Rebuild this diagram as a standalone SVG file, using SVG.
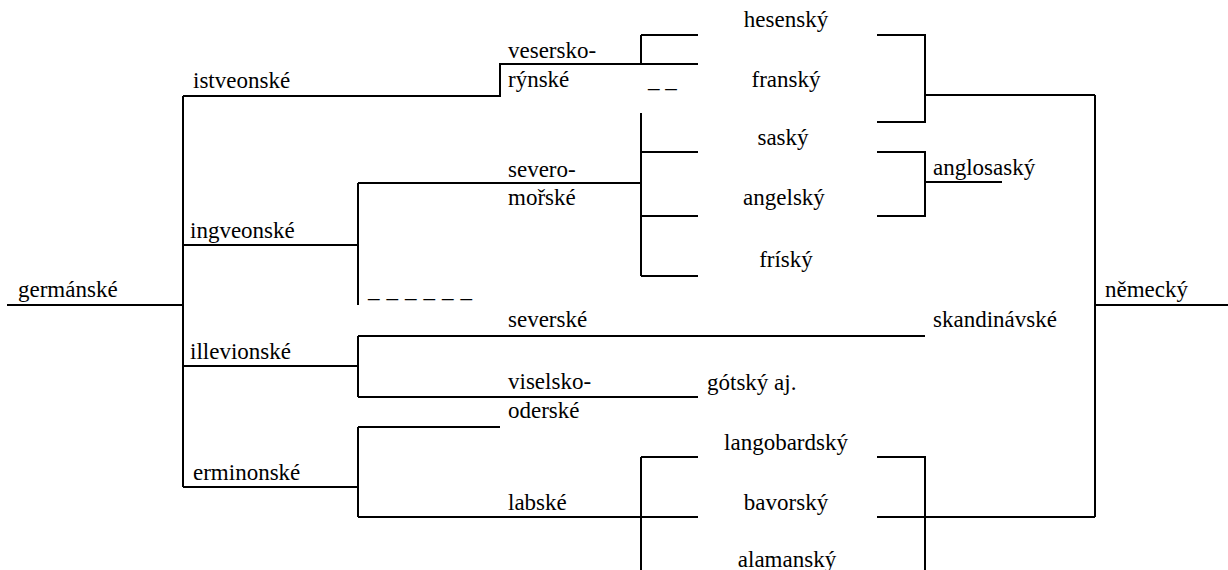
<svg xmlns="http://www.w3.org/2000/svg" width="1228" height="570" viewBox="0 0 1228 570">
  <style>
    text { font-family: "Liberation Serif", Tinos, "Times New Roman", "DejaVu Serif", serif; font-size: 23px; fill: #000; }
    .mid { text-anchor: middle; }
    .ln { stroke: #000; stroke-width: 2; fill: none; stroke-linecap: butt; stroke-linejoin: miter; }
  </style>
  <rect width="1228" height="570" fill="#fff"/>

  <!-- branch lines of the family tree -->
  <g id="connectors" class="ln">
    <!-- root -->
    <path d="M7 305H183"/>
    <path d="M183 96V487"/>
    <!-- istveonské to vesersko-rýnské -->
    <path d="M183 96H500V64H698"/>
    <path d="M641 35V64"/>
    <path d="M641 35H698"/>
    <!-- ingveonské to severomořské -->
    <path d="M183 245H358"/>
    <path d="M358 183V305"/>
    <path d="M358 183H641"/>
    <path d="M641 113V276"/>
    <path d="M641 152H698M641 216H698M641 276H698"/>
    <!-- illevionské -->
    <path d="M183 366H358"/>
    <path d="M358 336V397"/>
    <path d="M358 336H925"/>
    <path d="M358 397H698"/>
    <!-- erminonské -->
    <path d="M183 487H358"/>
    <path d="M358 427V517"/>
    <path d="M358 427H500"/>
    <path d="M358 517H698"/>
    <path d="M641 457V570"/>
    <path d="M641 457H698"/>
    <!-- right side: německý -->
    <path d="M877 35H925V122H877"/>
    <path d="M925 95H1095"/>
    <path d="M877 152H925V216H877"/>
    <path d="M925 182H1002"/>
    <path d="M877 457H925V570"/>
    <path d="M877 517H1095"/>
    <path d="M1095 95V517"/>
    <path d="M1095 305H1228"/>
  </g>

  <g id="germanske"><text x="18" y="297">germánské</text></g>
  <g id="istveonske"><text x="193" y="88">istveonské</text></g>
  <g id="ingveonske"><text x="190" y="238">ingveonské</text></g>
  <g id="illevionske"><text x="190" y="359">illevionské</text></g>
  <g id="erminonske"><text x="193" y="480">erminonské</text></g>

  <g id="vesersko-rynske">
    <text x="508" y="58">vesersko-</text>
    <text x="508" y="87">rýnské</text>
  </g>
  <g id="severomorske">
    <text x="508" y="177">severo-</text>
    <text x="508" y="205">mořské</text>
  </g>
  <g id="ingveonske-gap"><text x="368" y="297" textLength="104" lengthAdjust="spacing">_ _ _ _ _ _</text></g>
  <g id="severske"><text x="508" y="327">severské</text></g>
  <g id="viselsko-oderske">
    <text x="508" y="389">viselsko-</text>
    <text x="508" y="418">oderské</text>
  </g>
  <g id="labske"><text x="508" y="510">labské</text></g>

  <g id="hessensky"><text class="mid" x="786" y="27">hesenský</text></g>
  <g id="fransky"><text class="mid" x="786" y="87">franský</text></g>
  <g id="fransky-gap"><text x="648" y="87">_ _</text></g>
  <g id="sasky"><text class="mid" x="783" y="145">saský</text></g>
  <g id="angelsky"><text class="mid" x="784" y="205">angelský</text></g>
  <g id="frisky"><text class="mid" x="786" y="267">fríský</text></g>
  <g id="gotsky"><text x="707" y="390">gótský aj.</text></g>
  <g id="langobardsky"><text class="mid" x="786" y="450">langobardský</text></g>
  <g id="bavorsky"><text class="mid" x="786" y="510">bavorský</text></g>
  <g id="alamansky"><text class="mid" x="787" y="567">alamanský</text></g>

  <g id="anglosasky"><text x="933" y="175">anglosaský</text></g>
  <g id="skandinavske"><text x="933" y="327">skandinávské</text></g>
  <g id="nemecky"><text x="1105" y="297">německý</text></g>
</svg>
